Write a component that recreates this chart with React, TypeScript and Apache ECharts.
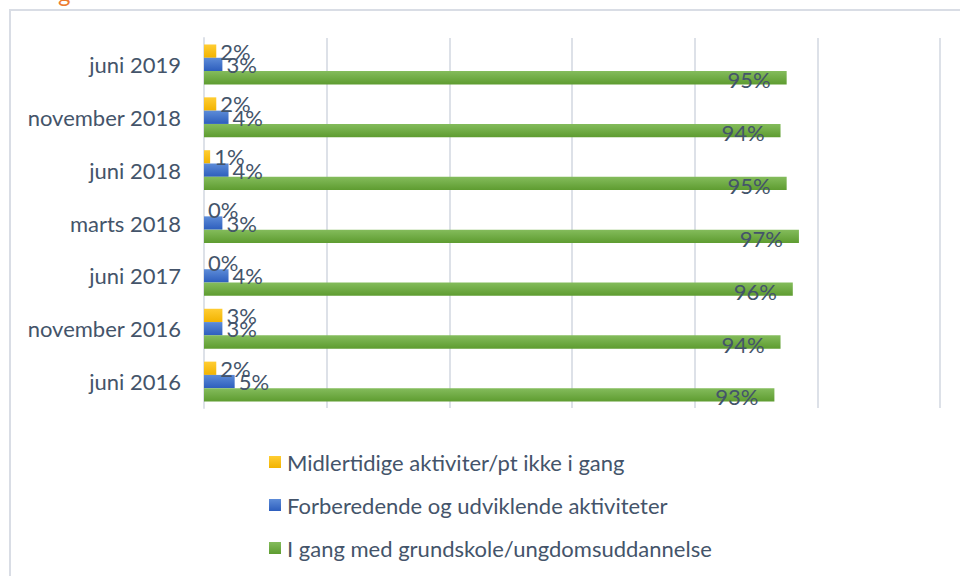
import React, { useEffect, useRef } from "react";
import * as echarts from "echarts";

const categories = ["juni 2016", "november 2016", "juni 2017", "marts 2018", "juni 2018", "november 2018", "juni 2019"];
const seriesNames = [
  "Midlertidige aktiviter/pt ikke i gang",
  "Forberedende og udviklende aktiviteter",
  "I gang med grundskole/ungdomsuddannelse",
];
const midlertidige = [2, 3, 0, 0, 1, 2, 2];
const forberedende = [5, 3, 4, 3, 4, 4, 3];
const iGang = [93, 94, 96, 97, 95, 94, 95];
const xTicks = [0, 20, 40, 60, 80, 100, 120];

const TEXT = "#44546A";
const FONT = "Lato, 'Open Sans', sans-serif";

function grad(top: string, bottom: string) {
  return new echarts.graphic.LinearGradient(0, 0, 0, 1, [
    { offset: 0, color: top },
    { offset: 1, color: bottom },
  ]);
}

export default function App() {
  const ref = useRef<HTMLDivElement>(null);
  useEffect(() => {
    if (!ref.current) return;
    const chart = echarts.init(ref.current, undefined, { renderer: "svg" });
    const smallLabel = {
      show: true,
      position: "right" as const,
      distance: 4,
      color: TEXT,
      fontSize: 22,
      fontFamily: FONT,
      formatter: "{c}%",
    };
    chart.setOption({
      animation: false,
      textStyle: { fontFamily: FONT },
      graphic: [
        {
          type: "rect",
          shape: { x: 10, y: 10, width: 980, height: 600 },
          style: { fill: "none", stroke: "#D9DDE5", lineWidth: 2 },
          silent: true,
        },
        {
          type: "text",
          left: 58,
          top: -20,
          style: { text: "g", fill: "#ED7D31", fontSize: 24, fontFamily: FONT },
          silent: true,
        },
      ],
      grid: { left: 204, right: 20, top: 38, bottom: 168, containLabel: false },
      xAxis: {
        type: "value",
        min: xTicks[0],
        max: xTicks[xTicks.length - 1],
        interval: 20,
        axisLabel: { show: false },
        axisLine: { show: false },
        axisTick: { show: false },
        splitLine: { show: true, lineStyle: { color: "#DDE1E8", width: 2 } },
      },
      yAxis: {
        type: "category",
        data: categories,
        axisLine: { show: true, lineStyle: { color: "#DDE1E8", width: 2 } },
        axisTick: { show: false },
        axisLabel: { color: TEXT, fontSize: 22, fontFamily: FONT, margin: 23 },
      },
      legend: {
        orient: "vertical",
        left: 264,
        top: 446,
        itemWidth: 12,
        itemHeight: 12,
        itemGap: 21,
        data: seriesNames,
        textStyle: { color: TEXT, fontSize: 22, fontFamily: FONT, padding: [0, 0, 0, 1] },
        icon: "rect",
      },
      series: [
        {
          name: seriesNames[0],
          type: "bar",
          data: midlertidige,
          barWidth: 13.3,
          barGap: "0%",
          itemStyle: { color: grad("#FFCD33", "#F2B300") },
          label: smallLabel,
        },
        {
          name: seriesNames[1],
          type: "bar",
          data: forberedende,
          barWidth: 13.3,
          barGap: "0%",
          itemStyle: { color: grad("#5D8CD8", "#2D5EBD") },
          label: smallLabel,
        },
        {
          name: seriesNames[2],
          type: "bar",
          data: iGang,
          barWidth: 13.3,
          barGap: "0%",
          itemStyle: { color: grad("#84BC5C", "#5E9C30") },
          label: {
            show: true,
            position: "insideRight",
            distance: 16,
            offset: [0, 2],
            color: TEXT,
            fontSize: 22,
            fontFamily: FONT,
            formatter: "{c}%",
          },
        },
      ],
    });
    return () => chart.dispose();
  }, []);
  return (
    <div
      ref={ref}
      style={{ position: "fixed", left: 0, top: 0, width: 960, height: 576, background: "#fff" }}
    />
  );
}
